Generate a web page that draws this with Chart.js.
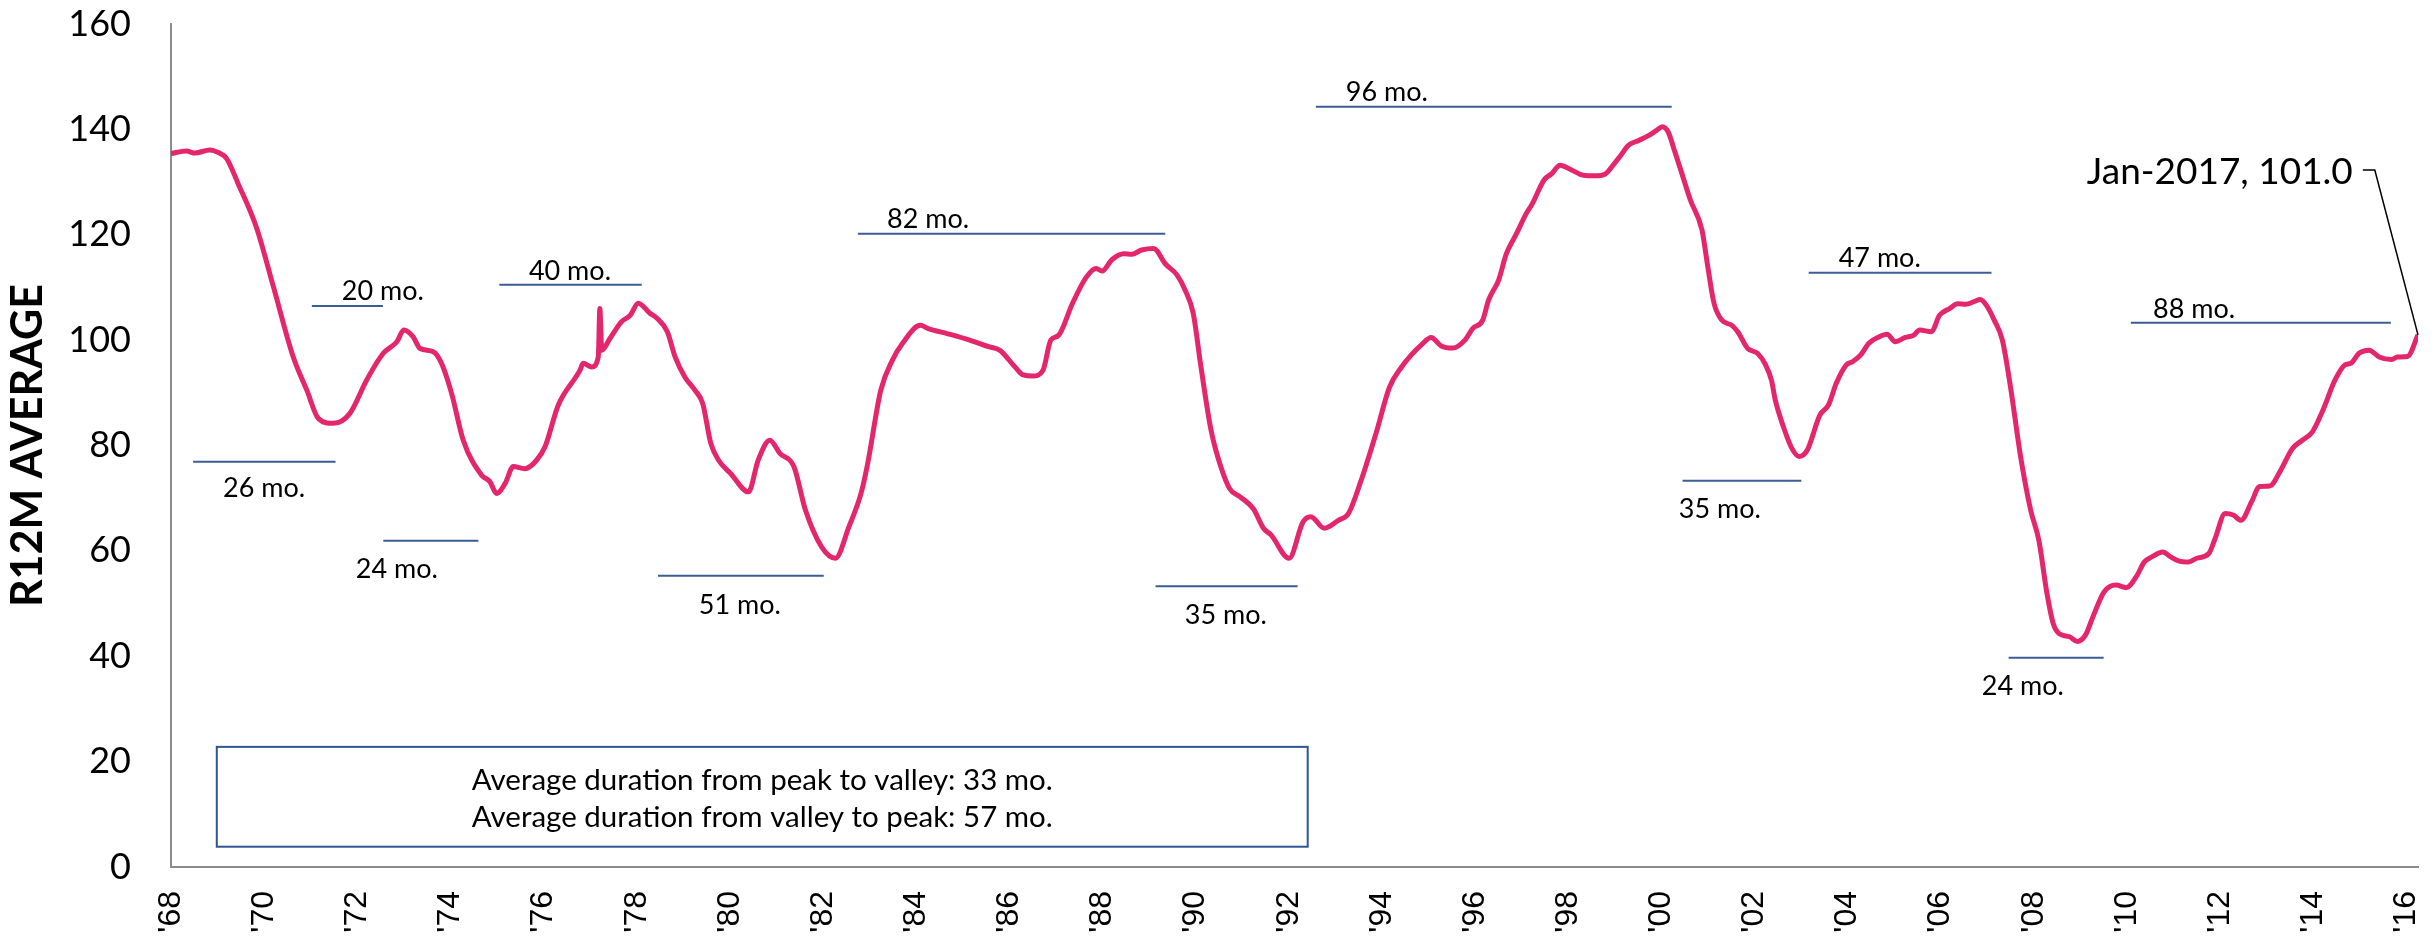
<!DOCTYPE html>
<html>
<head>
<meta charset="utf-8">
<title>R12M Average</title>
<script src="https://cdn.jsdelivr.net/npm/chart.js@4.4.1/dist/chart.umd.min.js"></script>
<style>
  html, body { margin: 0; padding: 0; background: #fff; }
  #wrap { width: 2435px; height: 938px; }
</style>
</head>
<body>
<div id="wrap"><canvas id="chart" width="2435" height="938"></canvas></div>
<script>
// Month index counted from the left edge of the axis, and the R12M value there
const months = [
  0, 4, 6.2, 10, 12.2, 14.3, 17.3, 22.1, 26.4, 31.5, 35, 38, 41.8, 46.1, 50.4, 54.7, 58.2, 60, 62.4, 64.2,
  67.6, 69.7, 72.3, 75.3, 80, 82.2, 83.9, 86.1, 88.2, 91.2, 94.2, 96.4, 99.8, 105.4, 106.2, 108.4, 110.1, 110.5, 111,
  113.1, 116.1, 118.3, 120.4, 123.4, 125.3, 127.9, 129.9, 132.4, 135, 137, 139.1, 141.1, 144.2, 148.8, 151.3,
  154.3, 156.9, 160.5, 163.5, 167.6, 171.2, 174.7, 177.8, 179.5, 182.9, 185.9, 188.5, 193.1, 195.1, 200.2,
  205.8, 210.9, 213.5, 217.5, 219.6, 222.1, 224.7, 226.7, 228.7, 232.3, 235.9, 238.4, 239.9, 242.5, 245.5,
  247.6, 250.1, 253.2, 256.2, 259.3, 261.3, 263.4, 265.4, 268, 270.5, 272.8, 275.4, 278.9, 281.5, 283.5,
  288.1, 291.7, 293.7, 297.2, 300.8, 303.4, 306.4, 310.5, 314, 317.1, 319.6, 322.2, 324.7, 327.3, 330.3,
  333.4, 335.4, 338, 339.5, 342.1, 344.1, 346.7, 349.2, 350.8, 353.8, 355.8, 357.9, 360.9, 363.9, 367,
  369.5, 371.6, 373.6, 375.6, 378.2, 380.7, 382.8, 384.3, 385.8, 387.4, 388.9, 391.5, 394.5, 396, 397.6,
  399.6, 402.2, 403.7, 406.3, 408.8, 410.9, 412.4, 413.4, 415.5, 417.5, 419.5, 421.6, 424.9, 427.1, 429.1,
  431.7, 433.3, 435.4, 437.5, 440.1, 442.2, 444.3, 446.9, 449, 450.6, 453.6, 455.7, 458.3, 460.4, 462.5,
  464.6, 466.2, 467.8, 469.8, 471.9, 474, 476.6, 479.2, 481.3, 483.4, 485, 486.5, 489.2, 491.2, 493.3,
  495.4, 498.1, 501.2, 503.8, 506.4, 508.5, 510.5, 513.2, 515.2, 517.3, 519.9, 522, 525.1, 526.7, 529.3,
  531.4, 533.4, 536.1, 538.2, 540.8, 543.4, 546.6, 549.2, 551.8, 554.5, 557.6, 560.2, 561.7, 563.8, 566.4,
  569, 572.1, 573.7, 576.3, 579
];
const r12m = [
  135.4, 135.9, 135.5, 136.1, 135.6, 134.5, 129.7, 121.2, 110.1, 96.8, 90.5, 85.1, 84.2, 86.1, 92.4, 97.5, 99.7, 101.9, 100.6, 98.4,
  97.8, 95.6, 89.9, 81, 74.4, 73.1, 70.9, 72.8, 76, 75.6, 77.2, 79.8, 87.7, 94.3, 95.6, 94.9, 96.8, 106, 98.1,
  100.3, 103.5, 104.7, 107, 105.1, 104.1, 101.6, 96.8, 93, 90.5, 88, 80.4, 77.2, 74.7, 71.2, 77.2,
  81, 78.5, 76, 67.7, 60.8, 58.6, 64.6, 70.9, 76.5, 90.5, 96.2, 99.4, 102.8, 102.2, 101.2,
  100, 98.7, 98.1, 94.9, 93.4, 93.2, 94.3, 100, 100.9, 107, 112, 113.6, 113.1, 115.3, 116.4,
  116.3, 117.1, 117.4, 114.5, 112.3, 109.5, 105.1, 94.9, 82.9, 76, 71.8, 70.3, 68, 64.3, 63,
  58.6, 65.5, 66.5, 64.3, 65.8, 67.1, 72.8, 82.3, 91.1, 94.9, 97.2, 99.1, 100.5, 98.9, 98.5,
  100, 102.2, 103.8, 107.6, 111.4, 116.4, 120.2, 124, 125.9, 130.4, 131.6, 133.2, 132.3, 131.3, 131.2,
  131.5, 133.2, 135.1, 137, 137.9, 138.8, 139.8, 140.5, 139.5, 136, 132.6, 126.6, 120.9, 113.9, 107,
  103.8, 102.8, 101.6, 98.4, 97.5, 95.3, 92.4, 88.6, 83.5, 79.7, 77.9, 79.1, 85.8, 87.7, 91.8,
  95.3, 95.9, 97.2, 99.4, 100.6, 101.1, 99.7, 100.5, 100.9, 101.9, 101.6, 104.7, 106, 106.9, 106.8,
  107.3, 107.7, 106.6, 103.8, 100, 91.1, 77.9, 67.7, 62, 51.9, 46.2, 44.3, 43.7, 42.8, 44,
  47.8, 52.2, 53.5, 53, 55.1, 57.9, 58.9, 59.8, 58.9, 58.1, 57.9, 58.6, 59.5, 62.3, 67.1,
  66.8, 65.8, 69.3, 72.2, 72.3, 75, 79.4, 81, 82.6, 86.7, 92.4, 95.3, 95.6, 97.5, 98.1,
  96.8, 96.3, 96.8, 96.9, 101.0
];
const lastLabel = 'Jan-2017';

// x axis: one label every 24 months
const tickLabels = ["'68", "'70", "'72", "'74", "'76", "'78", "'80", "'82", "'84", "'86", "'88", "'90", "'92",
  "'94", "'96", "'98", "'00", "'02", "'04", "'06", "'08", "'10", "'12", "'14", "'16"];
const tickMonths = tickLabels.map((_, i) => i * 24);

// peak / valley duration bars
const segText  = ['26 mo.', '20 mo.', '24 mo.', '40 mo.', '51 mo.', '82 mo.', '35 mo.', '96 mo.', '35 mo.', '47 mo.', '24 mo.', '88 mo.'];
const segStart = [5.7, 36.3, 54.7, 84.6, 125.5, 177.0, 253.7, 295.0, 389.5, 422.0, 473.5, 505.0];
const segEnd   = [42.4, 54.6, 79.2, 121.3, 168.2, 256.2, 290.3, 386.7, 420.1, 469.1, 498.0, 572.0];
const segLevel = [76.9, 106.5, 61.9, 110.5, 55.3, 120.2, 53.3, 144.3, 73.3, 112.8, 39.7, 103.3];

const boxLines = [
  'Average duration from peak to valley: 33 mo.',
  'Average duration from valley to peak: 57 mo.'
];

// where the text bits sit, in axis units
const segLabelMonth = [24.0, 54.6, 58.2, 102.8, 146.6, 195.1, 271.8, 313.3, 399.1, 440.3, 477.2, 521.3];
const segLabelLevel = [71.9, 109.2, 56.5, 113.0, 49.7, 123.0, 47.8, 147.1, 67.9, 115.5, 34.3, 105.8];
const boxPos = { x0: 11.8, x1: 292.9, y0: 3.85, y1: 22.8, lineLevels: [16.5, 9.4] };
const calloutPos = { month: 562.2, level: 131.9 };

const BODY_FONT = 'Lato, "Open Sans", sans-serif';

const overlay = {
  id: 'overlay',
  beforeDatasetsDraw(chart) {
    const { ctx, scales: { x, y } } = chart;
    ctx.save();
    ctx.strokeStyle = '#3b5d96';
    ctx.lineWidth = 2;
    segText.forEach((t, i) => {
      const py = y.getPixelForValue(segLevel[i]);
      ctx.beginPath();
      ctx.moveTo(x.getPixelForValue(segStart[i]), py);
      ctx.lineTo(x.getPixelForValue(segEnd[i]), py);
      ctx.stroke();
    });

    // summary box
    const bx0 = x.getPixelForValue(boxPos.x0), bx1 = x.getPixelForValue(boxPos.x1);
    const by0 = y.getPixelForValue(boxPos.y1), by1 = y.getPixelForValue(boxPos.y0);
    ctx.strokeStyle = '#2f5592';
    ctx.lineWidth = 2;
    ctx.strokeRect(bx0, by0, bx1 - bx0, by1 - by0);
    ctx.fillStyle = '#000';
    ctx.font = '29.5px ' + BODY_FONT;
    ctx.textAlign = 'center';
    ctx.textBaseline = 'middle';
    boxLines.forEach((line, i) => {
      ctx.fillText(line, (bx0 + bx1) / 2, y.getPixelForValue(boxPos.lineLevels[i]));
    });
    ctx.restore();
  },
  afterDatasetsDraw(chart) {
    const { ctx, scales: { x, y } } = chart;
    ctx.save();
    ctx.fillStyle = '#000';
    ctx.font = '27px ' + BODY_FONT;
    ctx.textAlign = 'center';
    ctx.textBaseline = 'middle';
    segText.forEach((t, i) => {
      ctx.fillText(t, x.getPixelForValue(segLabelMonth[i]), y.getPixelForValue(segLabelLevel[i]));
    });

    // callout for the latest reading
    const last = r12m.length - 1;
    const tx = x.getPixelForValue(calloutPos.month);
    const ty = y.getPixelForValue(calloutPos.level);
    ctx.font = '37px ' + BODY_FONT;
    ctx.textAlign = 'right';
    ctx.fillText(lastLabel + ', ' + r12m[last].toFixed(1), tx, ty);
    ctx.strokeStyle = '#000';
    ctx.lineWidth = 1.5;
    ctx.beginPath();
    ctx.moveTo(tx + 10, ty - 2);
    ctx.lineTo(tx + 22, ty - 2);
    ctx.lineTo(x.getPixelForValue(months[last]), y.getPixelForValue(r12m[last]));
    ctx.stroke();
    ctx.restore();
  }
};

const chart = new Chart(document.getElementById('chart'), {
  type: 'line',
  data: {
    datasets: [{
      label: 'R12M Average',
      data: months.map((m, i) => ({ x: m, y: r12m[i] })),
      borderColor: '#e4266c',
      borderWidth: 5,
      pointRadius: 0,
      cubicInterpolationMode: 'monotone',
      fill: false
    }]
  },
  options: {
    responsive: false,
    animation: false,
    devicePixelRatio: 1,
    layout: { padding: { top: 24, right: 17, left: 0, bottom: 0 } },
    plugins: {
      legend: { display: false },
      tooltip: { enabled: false }
    },
    scales: {
      x: {
        type: 'linear',
        min: 0,
        max: 579,
        afterBuildTicks: scale => {
          scale.ticks = tickMonths.map(v => ({ value: v }));
        },
        afterFit: scale => {
          // fixed band under the plot, no extra side padding from rotated labels
          scale.height = 71;
          scale.paddingLeft = 0;
          scale.paddingRight = 0;
        },
        grid: { display: false, drawTicks: false },
        border: { display: true, color: '#8c8c8c', width: 2 },
        ticks: {
          autoSkip: false,
          minRotation: 90,
          maxRotation: 90,
          padding: 24,
          color: '#000',
          font: { family: '"Liberation Sans", Arial, sans-serif', size: 32 },
          callback: (value, index) => tickLabels[index]
        }
      },
      y: {
        min: 0,
        max: 160,
        afterFit: scale => {
          scale.width = 171;
          scale.paddingTop = 0;
          scale.paddingBottom = 0;
        },
        grid: { display: false, drawTicks: false },
        border: { display: true, color: '#8c8c8c', width: 2 },
        ticks: {
          stepSize: 20,
          padding: 40,
          color: '#000',
          font: { family: BODY_FONT, size: 36 }
        },
        title: {
          display: true,
          text: 'R12M AVERAGE',
          color: '#000',
          padding: { top: 2, bottom: 0 },
          font: { family: BODY_FONT, size: 43, weight: 'bold' }
        }
      }
    }
  },
  plugins: [overlay]
});
</script>
</body>
</html>
